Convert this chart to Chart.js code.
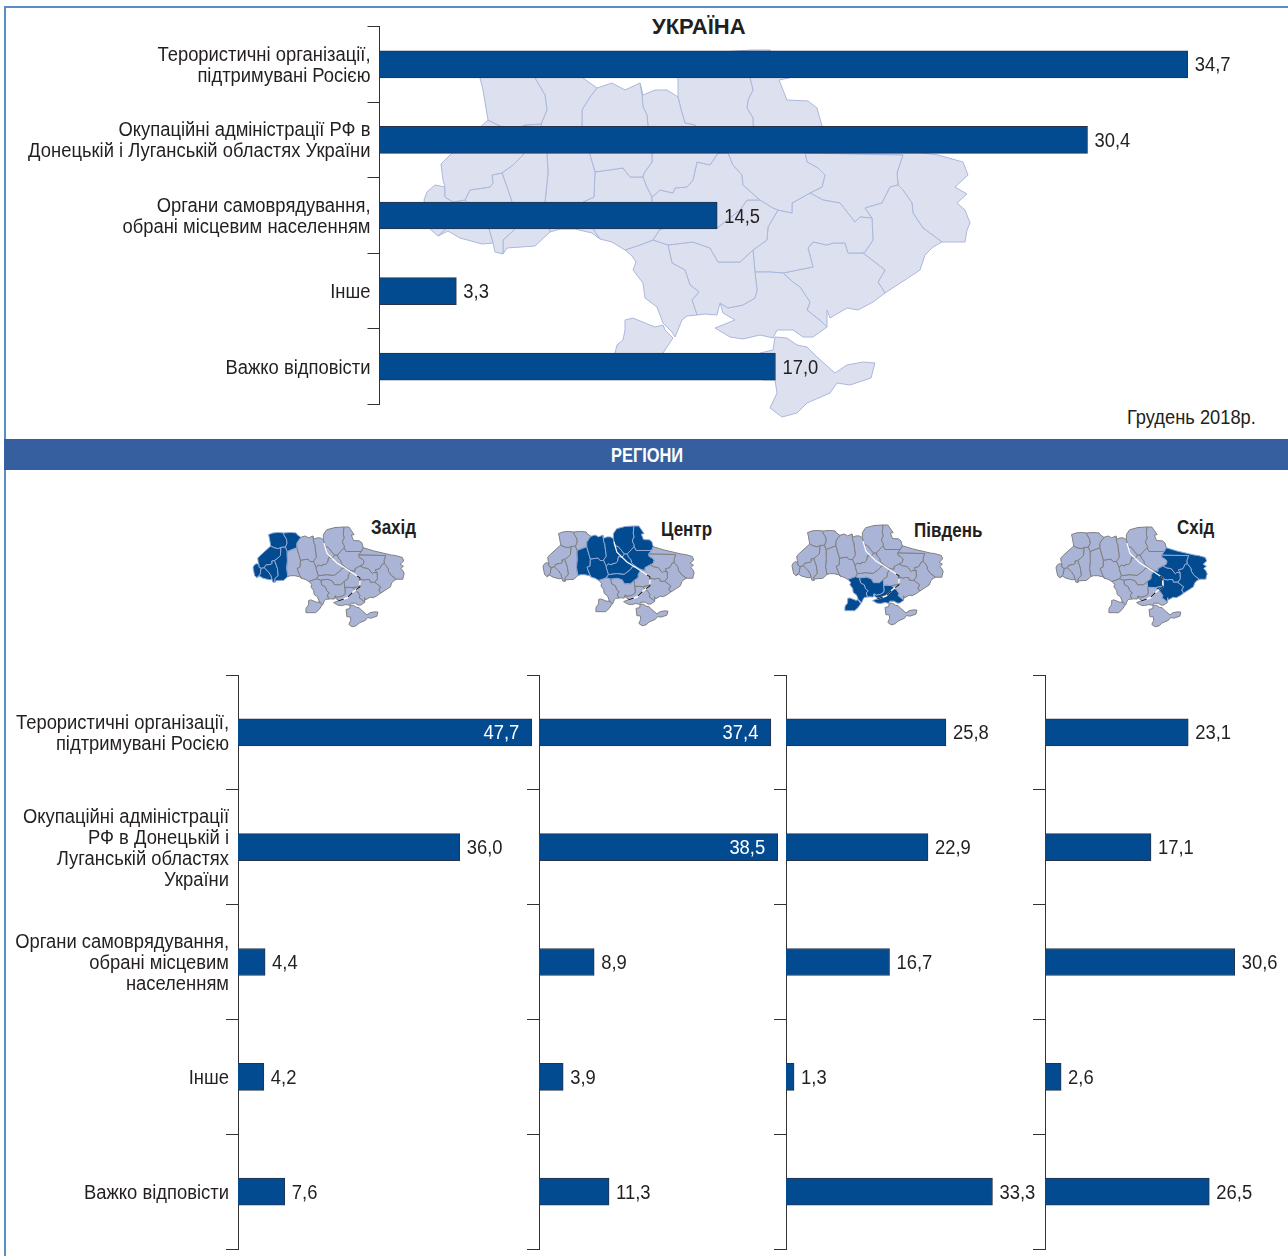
<!DOCTYPE html>
<html lang="uk">
<head>
<meta charset="utf-8">
<title>Україна</title>
<script src="https://cdn.jsdelivr.net/npm/chart.js@4/dist/chart.umd.min.js"></script>
<style>
    body { margin: 0; background: #fff; }
    #page { position: relative; width: 1288px; height: 1256px; overflow: hidden; font-family: "Liberation Sans", sans-serif; color: #231f20; }
    #page canvas, #page svg { position: absolute; }
    #frame { position: absolute; left: 4px; top: 6px; width: 1290px; height: 1260px; border: 2px solid #5b8dc4; box-sizing: border-box; }
    #band { position: absolute; left: 4px; top: 439px; width: 1284px; height: 31px; background: #365f9f; }
    .txt { position: absolute; white-space: nowrap; line-height: 22px; transform-origin: left center; }
    .reg { font-weight: bold; font-size: 21px; transform: scaleX(.81); }
</style>
</head>
<body>
<div id="page">
    <div id="frame"></div>
    <svg id="maps" width="1288" height="1256" style="left:0;top:0"></svg>
    <div id="band"></div>
    <div class="txt" style="left:611px;top:444px;font-size:20px;font-weight:bold;color:#fff;transform:scaleX(.82)">РЕГІОНИ</div>
    <div class="txt" style="left:652px;top:16px;font-size:22px;font-weight:bold">УКРАЇНА</div>
    <div class="txt" style="left:1127px;top:406px;font-size:20px;transform:scaleX(.914)">Грудень 2018р.</div>
    <div class="txt reg" style="left:371px;top:516px">Захід</div>
    <div class="txt reg" style="left:661px;top:518px">Центр</div>
    <div class="txt reg" style="left:914px;top:519px">Південь</div>
    <div class="txt reg" style="left:1177px;top:516px">Схід</div>
    <canvas id="cUkraine"></canvas>
    <canvas id="cWest"></canvas>
    <canvas id="cCenter"></canvas>
    <canvas id="cSouth"></canvas>
    <canvas id="cEast"></canvas>
</div>
<script>
// labels for the top chart and the narrower region charts
const labelsUkraine = [
    ["Терористичні організації,", "підтримувані Росією"],
    ["Окупаційні адміністрації РФ в", "Донецькій і Луганській областях України"],
    ["Органи самоврядування,", "обрані місцевим населенням"],
    "Інше",
    "Важко відповісти"
];
const labelsRegions = [
    ["Терористичні організації,", "підтримувані Росією"],
    ["Окупаційні адміністрації", "РФ в Донецькій і", "Луганській областях", "України"],
    ["Органи самоврядування,", "обрані місцевим", "населенням"],
    "Інше",
    "Важко відповісти"
];

const valuesUkraine = [34.7, 30.4, 14.5, 3.3, 17.0];
const valuesWest = [47.7, 36.0, 4.4, 4.2, 7.6];
const valuesCenter = [37.4, 38.5, 8.9, 3.9, 11.3];
const valuesSouth = [25.8, 22.9, 16.7, 1.3, 33.3];
const valuesEast = [23.1, 17.1, 30.6, 2.6, 26.5];

const BAR_COLOR = "#034b91";
const TEXT_COLOR = "#231f20";
const FONT = '"Liberation Sans", sans-serif';
const NARROW = 0.92; // no condensed font here, so squeeze the text a bit
const LINE_HEIGHT = 21;
const TEXT_SHIFT = 1.5; // text sits slightly below the bar centre

function narrowText(ctx, text, x, y) {
    ctx.save();
    ctx.translate(x, y + TEXT_SHIFT);
    ctx.scale(NARROW, 1);
    ctx.fillText(text, 0, 0);
    ctx.restore();
}

// category labels and value labels, both squeezed the same way
const barText = {
    id: "barText",
    afterDraw(chart) {
        const ctx = chart.ctx;
        const opts = chart.options.plugins.barText;
        const yScale = chart.scales.y;
        const values = chart.data.datasets[0].data;
        ctx.save();
        ctx.font = "20px " + FONT;
        ctx.textBaseline = "middle";

        if (opts.showLabels) {
            ctx.fillStyle = TEXT_COLOR;
            ctx.textAlign = "right";
            chart.data.labels.forEach(function(label, i) {
                const lines = [].concat(label);
                const mid = yScale.getPixelForTick(i);
                lines.forEach(function(line, j) {
                    narrowText(ctx, line, yScale.right - 9, mid + (j - (lines.length - 1) / 2) * LINE_HEIGHT);
                });
            });
        }

        chart.getDatasetMeta(0).data.forEach(function(bar, i) {
            const text = values[i].toFixed(1).replace(".", ",");
            if (values[i] >= opts.insideFrom) {
                ctx.fillStyle = "#fff";
                ctx.textAlign = "right";
                narrowText(ctx, text, bar.x - 12.5, bar.y);
            } else {
                ctx.fillStyle = TEXT_COLOR;
                ctx.textAlign = "left";
                narrowText(ctx, text, bar.x + 7, bar.y);
            }
        });
        ctx.restore();
    }
};

function makeChart(id, box, labels, values, pxPerUnit, showLabels, insideFrom) {
    const canvas = document.getElementById(id);
    canvas.width = box.width;
    canvas.height = box.height;
    canvas.style.left = box.left + "px";
    canvas.style.top = box.top + "px";
    const plotWidth = box.width - (box.axisX - box.left);

    return new Chart(canvas, {
        type: "bar",
        data: {
            labels: labels,
            datasets: [{
                data: values,
                backgroundColor: BAR_COLOR,
                borderColor: "#26324a",
                borderWidth: 1,
                barThickness: 27
            }]
        },
        options: {
            indexAxis: "y",
            responsive: false,
            animation: false,
            layout: { padding: { top: box.padTop, bottom: box.padBottom } },
            plugins: {
                legend: { display: false },
                tooltip: { enabled: false },
                barText: { showLabels: showLabels, insideFrom: insideFrom }
            },
            scales: {
                x: { display: false, min: 0, max: plotWidth / pxPerUnit },
                y: {
                    afterFit: function(scale) { scale.width = box.axisX - box.left; },
                    border: { color: "#333", width: 1 },
                    grid: { drawOnChartArea: false, color: "#333", tickLength: 12 },
                    ticks: { display: false, autoSkip: false }
                }
            }
        },
        plugins: [barText]
    });
}

makeChart("cUkraine", { left: 0, top: 21, width: 1288, height: 390, padTop: 5.5, padBottom: 6.5, axisX: 379.5 }, labelsUkraine, valuesUkraine, 23.29, true, 99);
makeChart("cWest", { left: 0, top: 669, width: 540, height: 585, padTop: 6, padBottom: 5, axisX: 238 }, labelsRegions, valuesWest, 6.16, true, 37);
makeChart("cCenter", { left: 520, top: 669, width: 300, height: 585, padTop: 6, padBottom: 5, axisX: 539 }, labelsRegions, valuesCenter, 6.2, false, 37);
makeChart("cSouth", { left: 770, top: 669, width: 290, height: 585, padTop: 6, padBottom: 5, axisX: 786 }, labelsRegions, valuesSouth, 6.2, false, 37);
makeChart("cEast", { left: 1030, top: 669, width: 258, height: 585, padTop: 6, padBottom: 5, axisX: 1045 }, labelsRegions, valuesEast, 6.2, false, 37);

// backdrop map: rough oblast outlines, same shapes for the big map and the small ones
const oblasts = [
    ["west", "480,78 496,72 515,70 535,72 535,78 545,95 547,110 541,124 525,125 515,130 500,126 488,120 486,108 483,90"],
    ["west", "535,72 560,70 580,72 583,78 597,88 590,97 582,110 582,126 547,140 541,124 547,110 545,95 535,78"],
    ["west", "488,120 500,126 515,130 525,125 523,155 513,165 502,173 492,175 493,183 490,187 470,190 465,200 453,202 445,197 445,187 443,180 441,164 452,153"],
    ["west", "435,185 445,187 445,197 453,202 450,225 438,236 430,229 424,200 427,192"],
    ["west", "453,202 465,200 480,215 489,229 493,243 482,244 460,238 448,231 438,236 450,225"],
    ["west", "465,200 470,190 490,187 493,183 492,175 502,173 507,187 512,202 515,229 503,240 503,254 495,252 493,243 489,229 480,215"],
    ["west", "525,125 541,124 547,140 547,153 548,173 545,202 550,232 535,246 507,248 503,254 503,240 515,229 512,202 507,187 502,173 513,165 523,155"],
    ["center", "547,140 582,126 590,155 595,172 594,197 583,202 593,229 600,239 592,233 575,229 560,229 550,232 545,202 548,173 547,153"],
    ["center", "597,88 612,83 625,90 640,83 642,95 643,107 647,115 648,126 652,155 652,162 644,173 643,177 630,177 623,168 595,172 590,155 582,126 582,110 590,97"],
    ["center", "640,83 643,95 655,90 667,90 678,97 682,113 685,123 695,125 718,153 710,165 697,162 693,180 687,187 675,188 673,193 660,190 652,197 647,187 643,177 644,173 652,162 652,155 648,126 647,115 643,107 642,95"],
    ["center", "678,97 678,78 690,60 720,52 752,50 750,78 753,90 748,100 747,108 753,118 753,126 728,153 718,153 695,125 685,123 682,113"],
    ["center", "752,50 770,50 789,78 779,80 787,100 808,101 817,108 822,126 815,140 760,140 753,126 753,118 747,108 748,100 753,90 750,78"],
    ["center", "753,126 760,140 815,140 805,153 807,162 818,168 825,175 822,187 810,193 792,203 792,213 778,210 773,208 760,200 743,185 742,175 733,165 728,153"],
    ["center", "652,197 660,190 673,193 675,188 687,187 693,180 697,162 710,165 718,153 728,153 733,165 742,175 743,185 760,200 747,200 740,210 717,228 690,225 660,229 652,202"],
    ["center", "595,172 623,168 630,177 643,177 647,187 652,197 652,202 660,229 653,240 640,245 625,250 612,242 600,239 593,229 583,202 594,197"],
    ["center", "653,240 660,229 690,225 717,228 740,210 747,200 760,200 773,208 778,210 768,227 767,240 753,250 740,262 718,262 710,248 693,242 668,245"],
    ["south", "625,250 640,245 653,240 668,245 672,263 685,270 690,285 699,292 692,300 697,315 687,316 682,320 675,337 672,332 663,323 657,307 645,298 643,283 633,270 636,262 632,256"],
    ["south", "625,320 633,318 645,323 655,327 663,325 665,330 673,338 663,353 650,365 615,365 615,353 617,345 623,340 625,330"],
    ["south", "668,245 693,242 710,248 718,262 740,262 753,250 755,272 757,290 755,298 743,305 728,308 720,303 717,315 705,314 697,315 692,300 699,292 690,285 685,270 672,263"],
    ["south", "755,272 770,272 783,273 793,282 800,287 810,302 807,310 822,322 827,327 813,337 803,337 793,330 777,330 773,338 760,335 743,339 730,337 715,328 735,320 723,313 720,303 728,308 743,305 755,298 757,290"],
    ["east", "792,203 810,193 823,200 840,203 855,222 860,217 872,218 873,240 865,252 863,253 848,253 845,243 833,243 827,245 813,242 808,248 813,267 783,273 770,272 755,272 753,250 767,240 768,227 778,210 792,213"],
    ["east", "863,253 885,270 878,282 885,293 873,302 858,310 847,308 830,318 827,310 827,327 822,322 807,310 810,302 800,287 793,282 783,273 813,267 808,248 813,242 827,245 833,243 845,243 848,253"],
    ["east", "865,208 882,203 890,187 898,185 903,190 912,203 913,213 923,228 942,242 933,247 925,255 920,270 905,280 885,293 878,282 885,270 863,253 865,252 873,240 872,218"],
    ["east", "805,153 903,155 897,173 898,185 890,187 882,203 865,208 872,218 860,217 855,222 840,203 823,200 810,193 822,187 825,175 818,168 807,162"],
    ["east", "815,140 822,126 860,138 923,153 938,155 963,162 968,175 955,187 967,194 957,203 965,210 970,223 967,230 965,242 942,242 923,228 913,213 912,203 903,190 898,185 897,173 903,155 805,153"],
    ["crimea", "775,337 787,338 797,345 807,347 817,357 835,373 847,365 863,362 875,363 871,378 850,385 837,383 830,393 807,403 797,413 782,417 770,408 777,393 775,380 763,380 760,353 773,350"]
];
const dniproUpper = "680,109 691,146 727,182 756,201 800,230";
const dniproLower = "800,230 810,237 810,270 785,289 763,311 731,322";

const svg = document.getElementById("maps");
const SVG_NS = "http://www.w3.org/2000/svg";

function addLine(g, points, color, width, dash) {
    const r = document.createElementNS(SVG_NS, "polyline");
    r.setAttribute("points", points);
    r.setAttribute("fill", "none");
    r.setAttribute("stroke", color);
    r.setAttribute("stroke-width", width);
    if (dash) r.setAttribute("stroke-dasharray", dash);
    r.setAttribute("vector-effect", "non-scaling-stroke");
    g.appendChild(r);
}

function addMapGroup(transform, fill, stroke, highlight) {
    const g = document.createElementNS(SVG_NS, "g");
    g.setAttribute("transform", transform);
    oblasts.forEach(function(o) {
        const p = document.createElementNS(SVG_NS, "polygon");
        const on = o[0] === highlight;
        p.setAttribute("points", o[1]);
        p.setAttribute("fill", on ? BAR_COLOR : fill);
        p.setAttribute("stroke", on ? "#8fa9d6" : stroke);
        p.setAttribute("stroke-width", "1");
        p.setAttribute("stroke-linejoin", "round");
        p.setAttribute("vector-effect", "non-scaling-stroke");
        if (!on) g.insertBefore(p, g.firstChild); else g.appendChild(p);
    });
    if (highlight !== null) {
        addLine(g, dniproUpper, "#fff", "1.2");
        addLine(g, dniproLower, "#fff", "1.5");
        addLine(g, dniproLower, "#222", "1.2", "6 5");
    }
    svg.appendChild(g);
}

addMapGroup("", "#dde1ef", "#aab8dc", null);
function smallMap(x0, y0, highlight) {
    addMapGroup("translate(" + x0 + "," + y0 + ") scale(.277,.272) translate(-424,-50)", "#aab4d6", "#808080", highlight);
}
smallMap(253, 527, "west");
smallMap(543, 526, "center");
smallMap(792, 525, "south");
smallMap(1056, 527, "east");
</script>
</body>
</html>
